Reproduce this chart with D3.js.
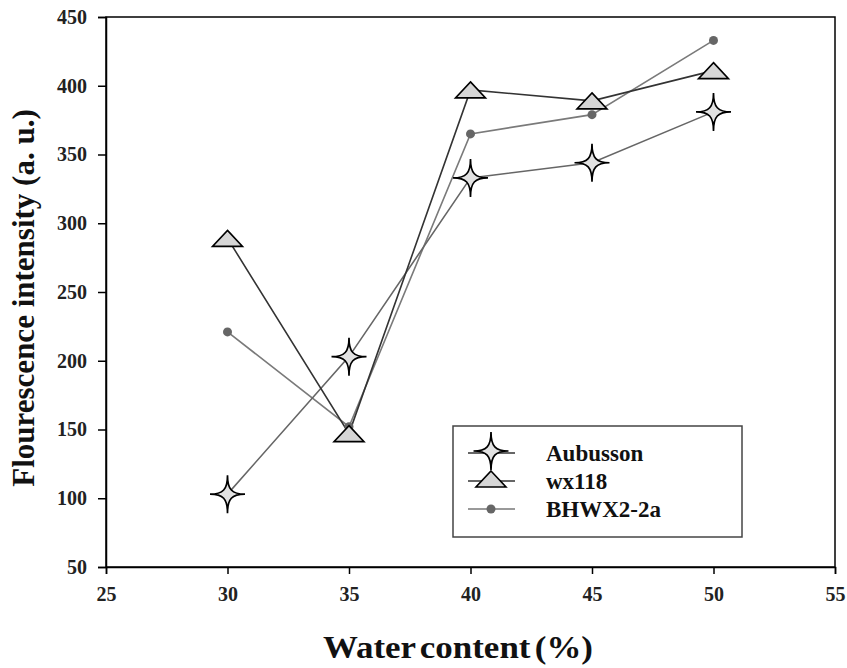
<!DOCTYPE html>
<html><head><meta charset="utf-8">
<script src="https://cdn.jsdelivr.net/npm/d3@7"></script>
<style>body{margin:0;background:#fff;} svg{display:block;}</style>
</head><body>
<script>
const waterContent = [30, 35, 40, 45, 50];
const aubusson = [103, 203, 333, 344, 381];
const wx118 = [289, 147, 397, 389, 411];
const bhwx = [221, 152, 365, 379, 433];
const xTicks = [25, 30, 35, 40, 45, 50, 55];
const yTicks = [50, 100, 150, 200, 250, 300, 350, 400, 450];
const seriesNames = ["Aubusson", "wx118", "BHWX2-2a"];

const W = 847, H = 668;
const svg = d3.select("body").append("svg").attr("width", W).attr("height", H);
const font = "'Liberation Serif', 'Times New Roman', serif";

const x = d3.scaleLinear().domain([25, 55]).range([106, 835]);
const y = d3.scaleLinear().domain([50, 450]).range([567, 17]);

// frame
svg.append("rect").attr("x", 106).attr("y", 17).attr("width", 729).attr("height", 550)
  .attr("fill", "none").attr("stroke", "#000").attr("stroke-width", 1.5);

const xAxis = svg.append("g").attr("transform", "translate(0,567)")
  .call(d3.axisBottom(x).tickValues(xTicks).tickSize(7).tickPadding(13).tickFormat(d3.format("d")));
const yAxis = svg.append("g").attr("transform", "translate(106,0)")
  .call(d3.axisLeft(y).tickValues(yTicks).tickSize(8).tickPadding(11).tickFormat(d3.format("d")));
[xAxis, yAxis].forEach(g => {
  g.select(".domain").attr("stroke", "#000").attr("stroke-width", 1.5);
  g.selectAll(".tick line").attr("stroke", "#000").attr("stroke-width", 1.5);
  g.selectAll(".tick text").attr("font-family", font).attr("font-weight", "bold")
    .attr("font-size", 20).attr("fill", "#222");
});

function starPath(Rx, Ry) {
  const c = 0.25;
  return `M0,${-Ry}` +
    `C0,${-Ry*c} ${Rx*c},0 ${Rx},0` +
    `C${Rx*c},0 0,${Ry*c} 0,${Ry}` +
    `C0,${Ry*c} ${-Rx*c},0 ${-Rx},0` +
    `C${-Rx*c},0 0,${-Ry*c} 0,${-Ry}Z`;
}
function triPath(w, h) {
  return `M0,${-h/2} L${w/2},${h/2} L${-w/2},${h/2}Z`;
}

const line = d3.line().x(d => x(d[0])).y(d => y(d[1]));
const pts = vals => waterContent.map((v, i) => [v, vals[i]]);

// lines
svg.append("path").datum(pts(bhwx)).attr("d", line).attr("fill", "none").attr("stroke", "#7a7a7a").attr("stroke-width", 1.6);
svg.append("path").datum(pts(aubusson)).attr("d", line).attr("fill", "none").attr("stroke", "#666").attr("stroke-width", 1.6);
svg.append("path").datum(pts(wx118)).attr("d", line).attr("fill", "none").attr("stroke", "#333").attr("stroke-width", 1.6);

// markers
svg.selectAll(".dot").data(pts(bhwx)).enter().append("circle")
  .attr("cx", d => x(d[0])).attr("cy", d => y(d[1])).attr("r", 4.5).attr("fill", "#666");
svg.selectAll(".tri").data(pts(wx118)).enter().append("path")
  .attr("transform", d => `translate(${x(d[0])},${y(d[1])})`)
  .attr("d", triPath(30, 16)).attr("fill", "#d6d6d6").attr("stroke", "#000").attr("stroke-width", 1.6);
svg.selectAll(".star").data(pts(aubusson)).enter().append("path")
  .attr("transform", d => `translate(${x(d[0])},${y(d[1])})`)
  .attr("d", starPath(17.5, 19)).attr("fill", "#e2e2e2").attr("stroke", "#000").attr("stroke-width", 1.7);

// legend
const lg = svg.append("g");
lg.append("rect").attr("x", 453).attr("y", 426).attr("width", 289).attr("height", 111)
  .attr("fill", "#fff").attr("stroke", "#444").attr("stroke-width", 1.5);
const rows = [453, 481, 509];
const lineColors = ["#333", "#333", "#777"];
rows.forEach((ry, i) => {
  lg.append("line").attr("x1", 468).attr("x2", 515).attr("y1", ry).attr("y2", ry)
    .attr("stroke", lineColors[i]).attr("stroke-width", 1.6);
});
lg.append("path").attr("transform", `translate(491,${rows[0] - 2})`).attr("d", starPath(17.5, 19))
  .attr("fill", "#e2e2e2").attr("stroke", "#000").attr("stroke-width", 1.7);
lg.append("path").attr("transform", `translate(491,${rows[1] - 2})`).attr("d", triPath(30, 16))
  .attr("fill", "#d6d6d6").attr("stroke", "#000").attr("stroke-width", 1.6);
lg.append("circle").attr("cx", 491).attr("cy", rows[2]).attr("r", 4.5).attr("fill", "#666");
seriesNames.forEach((n, i) => {
  lg.append("text").attr("x", 546).attr("y", rows[i]).attr("dy", "0.35em")
    .attr("font-family", font).attr("font-weight", "bold").attr("font-size", 23).attr("fill", "#111").text(n);
});

// axis titles
svg.append("text").attr("x", 458).attr("y", 658).attr("text-anchor", "middle")
  .attr("font-family", font).attr("font-weight", "bold").attr("font-size", 32).attr("fill", "#111")
  .attr("word-spacing", "-4").attr("textLength", 270).attr("lengthAdjust", "spacingAndGlyphs")
  .text("Water content (%)");
svg.append("text").attr("transform", "translate(34,298) rotate(-90)").attr("text-anchor", "middle")
  .attr("font-family", font).attr("font-weight", "bold").attr("font-size", 31).attr("fill", "#111")
  .text("Flourescence intensity (a. u.)");
</script>
</body></html>
